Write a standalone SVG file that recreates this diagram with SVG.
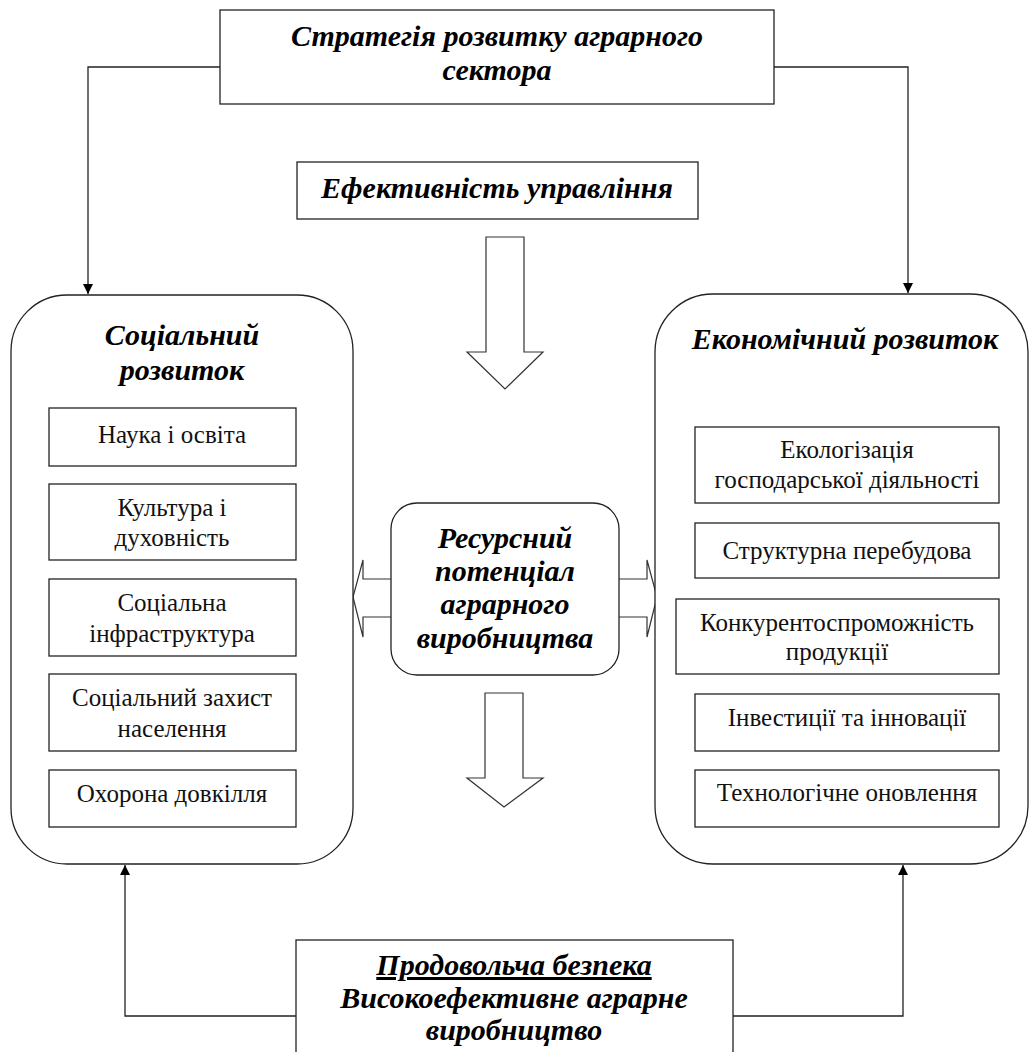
<svg xmlns="http://www.w3.org/2000/svg" width="1030" height="1052" viewBox="0 0 1030 1052">
<defs>
<style>
.box{fill:#fff;stroke:#222;stroke-width:1.3}
.big{fill:#fff;stroke:#222;stroke-width:1.3}
.line{fill:none;stroke:#222;stroke-width:1.3}
.ar{fill:#fff;stroke:#333;stroke-width:1.2;stroke-linejoin:miter}
.h{font-family:'Liberation Serif','DejaVu Serif',serif;font-weight:bold;font-style:italic;font-size:30px;fill:#000;text-anchor:middle}
.t{font-family:'Liberation Serif','DejaVu Serif',serif;font-size:25px;fill:#111;text-anchor:middle}
.u{text-decoration:underline;text-decoration-thickness:2.5px}
</style>
<marker id="arr" viewBox="0 0 10 10" refX="10" refY="5" markerWidth="10" markerHeight="14" markerUnits="userSpaceOnUse" orient="auto">
<path d="M0,0 L10,5 L0,10 z" fill="#000"/>
</marker>
</defs>
<rect width="1030" height="1052" fill="#fff"/>

<g id="connectors">
<polyline class="line" points="220,67 88,67 88,294" marker-end="url(#arr)"/>
<polyline class="line" points="774,67 908,67 908,293" marker-end="url(#arr)"/>
<polyline class="line" points="296,1016 125,1016 125,865" marker-end="url(#arr)"/>
<polyline class="line" points="733,1016 903,1016 903,865" marker-end="url(#arr)"/>
<path class="ar" d="M486,237 H524 V352 H543 L505,389 L467,352 H486 Z"/>
<path class="ar" d="M485,693 H523 V778 H543 L504,807 L467,778 H485 Z"/>
<path class="ar" d="M391,579 H363 V560 L353,597 L363,637 V617 H391"/>
<path class="ar" d="M619,579 H647 V560 L657,597 L647,637 V617 H619"/>
</g>

<g id="strategy">
<rect class="box" x="220" y="10" width="554" height="94"/>
<text class="h" x="497" y="46">Стратегія розвитку аграрного</text>
<text class="h" x="497" y="80">сектора</text>
</g>

<g id="efficiency">
<rect class="box" x="297" y="162" width="401" height="57"/>
<text class="h" x="497" y="198">Ефективність управління</text>
</g>

<g id="social">
<rect class="big" x="11" y="295" width="342" height="569" rx="56" ry="56"/>
<text class="h" x="182" y="345">Соціальний</text>
<text class="h" x="182" y="380">розвиток</text>
</g>
<g id="s1"><rect class="box" x="49" y="408" width="247" height="58"/><text class="t" x="172" y="443">Наука і освіта</text></g>
<g id="s2"><rect class="box" x="49" y="484" width="247" height="76"/><text class="t" x="172" y="516">Культура і</text><text class="t" x="172" y="546">духовність</text></g>
<g id="s3"><rect class="box" x="49" y="579" width="247" height="77"/><text class="t" x="172" y="611">Соціальна</text><text class="t" x="172" y="642">інфраструктура</text></g>
<g id="s4"><rect class="box" x="49" y="674" width="247" height="77"/><text class="t" x="172" y="706">Соціальний захист</text><text class="t" x="172" y="737">населення</text></g>
<g id="s5"><rect class="box" x="49" y="770" width="247" height="57"/><text class="t" x="172" y="802">Охорона довкілля</text></g>

<g id="economic">
<rect class="big" x="655" y="294" width="373" height="570" rx="58" ry="58"/>
<text class="h" x="845" y="349">Економічний розвиток</text>
</g>
<g id="e1"><rect class="box" x="695" y="427" width="304" height="76"/><text class="t" x="847" y="458">Екологізація</text><text class="t" x="847" y="488">господарської діяльності</text></g>
<g id="e2"><rect class="box" x="695" y="523" width="304" height="55"/><text class="t" x="847" y="559">Структурна перебудова</text></g>
<g id="e3"><rect class="box" x="676" y="599" width="323" height="75"/><text class="t" x="837" y="631">Конкурентоспроможність</text><text class="t" x="837" y="660">продукції</text></g>
<g id="e4"><rect class="box" x="695" y="694" width="304" height="57"/><text class="t" x="847" y="726">Інвестиції та інновації</text></g>
<g id="e5"><rect class="box" x="695" y="770" width="304" height="57"/><text class="t" x="847" y="801">Технологічне оновлення</text></g>

<g id="resource">
<rect class="box" x="391" y="503" width="228" height="172" rx="26" ry="26"/>
<text class="h" x="505" y="548">Ресурсний</text>
<text class="h" x="505" y="581">потенціал</text>
<text class="h" x="505" y="614">аграрного</text>
<text class="h" x="505" y="648">виробництва</text>
</g>

<g id="food">
<rect class="box" x="296" y="940" width="437" height="130"/>
<text class="h u" x="514" y="975">Продовольча безпека</text>
<text class="h" x="514" y="1008">Високоефективне аграрне</text>
<text class="h" x="514" y="1040">виробництво</text>
</g>
</svg>
